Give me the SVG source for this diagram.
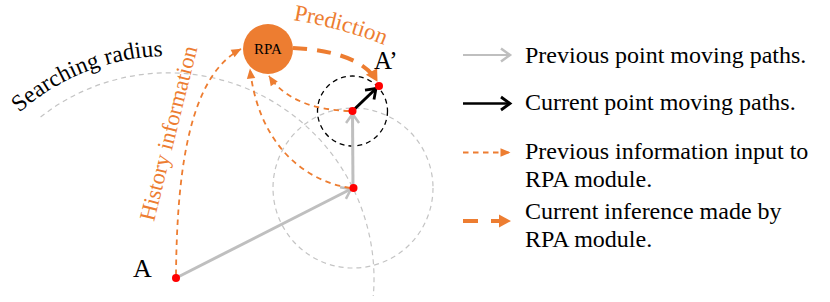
<svg xmlns="http://www.w3.org/2000/svg" width="830" height="302" viewBox="0 0 830 302">
<style>
  .txt { font-family: "Liberation Serif", "Times New Roman", serif; }
  .leg { font-family: "Liberation Serif", "Times New Roman", serif; font-size: 24px; fill: #000; }
  .orange-txt { fill: #ED7D31; }
  .grayDash { fill: none; stroke: #C4C4C4; stroke-width: 1.2; stroke-dasharray: 5 4; }
  .blackDash { fill: none; stroke: #000; stroke-width: 1.3; stroke-dasharray: 5 4; }
  .grayArrow { fill: none; stroke: #BFBFBF; stroke-width: 3; }
  .blackArrow { fill: none; stroke: #000; stroke-width: 3; }
  .thinOr { fill: none; stroke: #ED7D31; stroke-width: 1.8; stroke-dasharray: 5.5 4.5; }
  .thickOr { fill: none; stroke: #ED7D31; stroke-width: 4; stroke-dasharray: 14 10; }
  .dot { fill: #FF0000; }
</style>
<defs>
  <marker id="chevG" markerUnits="userSpaceOnUse" viewBox="-15 -15 30 30" markerWidth="30" markerHeight="30" refX="0" refY="0" orient="auto" overflow="visible">
    <path d="M-9,-6.5 L0,0 L-9,6.5" fill="none" stroke="#BFBFBF" stroke-width="2.5"/>
  </marker>
  <marker id="chevK" markerUnits="userSpaceOnUse" viewBox="-15 -15 30 30" markerWidth="30" markerHeight="30" refX="0" refY="0" orient="auto" overflow="visible">
    <path d="M-9,-6.5 L0,0 L-9,6.5" fill="none" stroke="#000" stroke-width="2.8"/>
  </marker>
  <marker id="triS" markerUnits="userSpaceOnUse" viewBox="-15 -15 30 30" markerWidth="30" markerHeight="30" refX="0" refY="0" orient="auto" overflow="visible">
    <path d="M-9.5,-4.2 L0.5,0 L-9.5,4.2 Z" fill="#ED7D31"/>
  </marker>
  <marker id="triL" markerUnits="userSpaceOnUse" viewBox="-15 -15 30 30" markerWidth="30" markerHeight="30" refX="0" refY="0" orient="auto" overflow="visible">
    <path d="M-11,-6.5 L1,0 L-11,6.5 Z" fill="#ED7D31"/>
  </marker>
  <path id="arcText" d="M-2.8,135.7 A223,223 0 0 1 225.7,63.6"/>
  <path id="predText" d="M293,20 Q345.7,29.3 384,45"/>
</defs>

<!-- searching radius circles -->
<g id="radius-circles">
  <path class="grayDash" d="M40.6,117 A206,206 0 0 1 373.3,296"/>
  <circle class="grayDash" cx="353" cy="188" r="80"/>
  <circle class="blackDash" cx="352.5" cy="111" r="35"/>
</g>

<text class="txt" font-size="23.5" fill="#000"><textPath href="#arcText" startOffset="32">Searching radius</textPath></text>

<g id="connectors">
  <line class="grayArrow" x1="176" y1="278" x2="351" y2="189" marker-end="url(#chevG)"/>
  <line class="grayArrow" x1="353" y1="188" x2="352.5" y2="114" marker-end="url(#chevG)"/>
  <line class="blackArrow" x1="352.5" y1="111" x2="376" y2="88.5" marker-end="url(#chevK)"/>
  <path class="thinOr" d="M176,275 C177,160 192,75 241,49" marker-end="url(#triS)"/>
  <path class="thinOr" d="M350,188 C300,180 258,140 250,69" marker-end="url(#triS)"/>
  <path class="thinOr" d="M349,111 C315,110 285,100 269,76" marker-end="url(#triS)"/>
  <path class="thickOr" d="M293,48 C338,50 366,62 377,81" marker-end="url(#triL)"/>
</g>

<text class="txt orange-txt" font-size="22.5" transform="translate(154,222) rotate(-76)">History information</text>
<text class="txt orange-txt" font-size="23"><textPath href="#predText">Prediction</textPath></text>

<g id="node-RPA">
  <circle cx="268" cy="49" r="25" fill="#ED7D31"/>
  <text class="txt" x="268" y="54" font-size="15" text-anchor="middle" fill="#000">RPA</text>
</g>

<g id="node-A">
  <circle class="dot" cx="176" cy="278" r="4"/>
  <text class="txt" x="133" y="277" font-size="26" fill="#000">A</text>
</g>
<g id="node-B">
  <circle class="dot" cx="353.5" cy="188" r="4"/>
</g>
<g id="node-C">
  <circle class="dot" cx="352.5" cy="111" r="4"/>
</g>
<g id="node-Aprime">
  <circle class="dot" cx="379" cy="86" r="4"/>
  <text class="txt" x="374" y="69" font-size="25" fill="#000">A’</text>
</g>

<g id="legend">
  <g id="legend-prev-path">
    <line x1="463" y1="55" x2="510" y2="55" stroke="#BFBFBF" stroke-width="2.2" marker-end="url(#chevG)"/>
    <text class="leg" x="525" y="63">Previous point moving paths.</text>
  </g>
  <g id="legend-cur-path">
    <line x1="463" y1="103.5" x2="510" y2="103.5" stroke="#000" stroke-width="2.6" marker-end="url(#chevK)"/>
    <text class="leg" x="525" y="110">Current point moving paths.</text>
  </g>
  <g id="legend-prev-info">
    <line x1="463" y1="152.5" x2="510" y2="152.5" stroke="#ED7D31" stroke-width="1.8" stroke-dasharray="5.5 4.5" marker-end="url(#triS)"/>
    <text class="leg" x="525" y="158.5">Previous information input to</text>
    <text class="leg" x="525" y="186.5">RPA module.</text>
  </g>
  <g id="legend-cur-inf">
    <line x1="463" y1="221" x2="510" y2="221" stroke="#ED7D31" stroke-width="4" stroke-dasharray="15 13" marker-end="url(#triL)"/>
    <text class="leg" x="525" y="219">Current inference made by</text>
    <text class="leg" x="525" y="247">RPA module.</text>
  </g>
</g>
</svg>
